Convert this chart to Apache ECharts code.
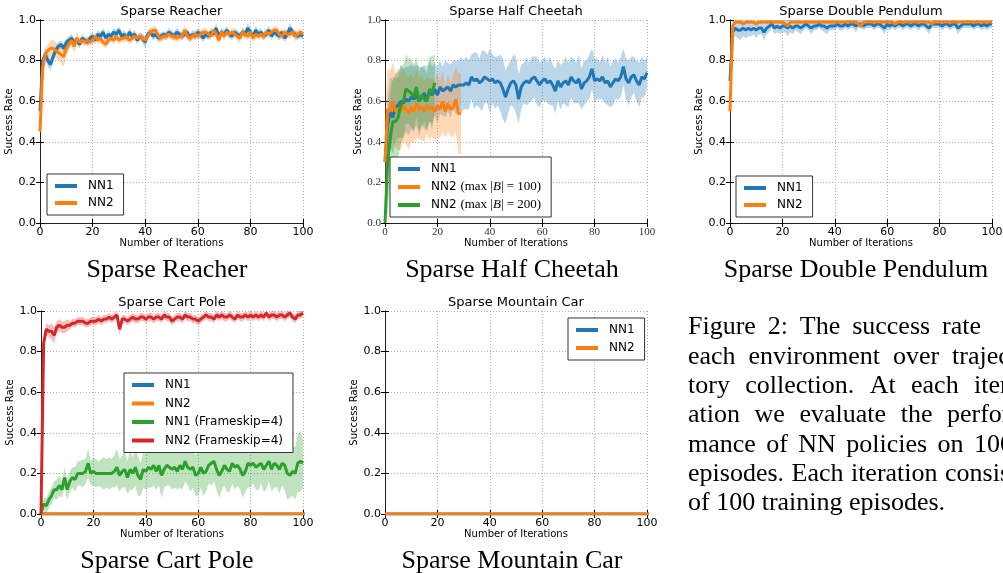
<!DOCTYPE html>
<html>
<head>
<meta charset="utf-8">
<script src="https://cdn.jsdelivr.net/npm/echarts@6/dist/echarts.min.js"></script>
<style>
  html, body { margin: 0; padding: 0; background: #fff; }
  #chart { width: 1003px; height: 573px; }
</style>
</head>
<body>
<div id="chart"></div>
<script>
// x ticks / y ticks shared by all panels
const xTicks = [0, 20, 40, 60, 80, 100];
const yTicks = [0.0, 0.2, 0.4, 0.6, 0.8, 1.0];

// ---- Sparse Reacher ----
const reacherNN1 = [
  0.55,0.80,0.83,0.80,0.78,0.82,0.85,0.87,0.88,0.86,0.89,
  0.90,0.91,0.89,0.90,0.88,0.91,0.90,0.89,0.91,0.92,
  0.90,0.93,0.92,0.94,0.91,0.93,0.92,0.94,0.93,0.95,
  0.92,0.93,0.91,0.94,0.92,0.93,0.90,0.92,0.91,0.89,
  0.93,0.94,0.92,0.93,0.91,0.92,0.93,0.92,0.94,0.93,
  0.92,0.94,0.93,0.92,0.93,0.94,0.91,0.93,0.92,0.94,
  0.93,0.91,0.93,0.92,0.94,0.93,0.96,0.92,0.94,0.93,
  0.95,0.93,0.92,0.94,0.93,0.92,0.94,0.93,0.96,0.94,
  0.92,0.95,0.93,0.94,0.92,0.93,0.95,0.92,0.94,0.93,
  0.92,0.94,0.91,0.93,0.96,0.94,0.93,0.92,0.93,0.92];
const reacherNN1Spread = [
  0.06,0.03,0.03,0.03,0.03,0.03,0.025,0.02,0.02,0.02,0.02,
  0.02,0.02,0.02,0.02,0.02,0.02,0.015,0.02,0.02,0.02,
  0.02,0.02,0.02,0.02,0.02,0.02,0.015,0.02,0.02,0.02,
  0.02,0.02,0.02,0.02,0.02,0.02,0.02,0.02,0.02,0.03,
  0.02,0.02,0.02,0.02,0.02,0.02,0.015,0.02,0.02,0.02,
  0.02,0.02,0.02,0.02,0.02,0.02,0.02,0.02,0.02,0.02,
  0.02,0.02,0.02,0.02,0.02,0.02,0.025,0.02,0.02,0.02,
  0.02,0.02,0.02,0.02,0.02,0.02,0.02,0.02,0.025,0.02,
  0.02,0.02,0.02,0.02,0.02,0.02,0.02,0.02,0.02,0.02,
  0.02,0.02,0.02,0.02,0.025,0.02,0.02,0.02,0.02,0.02];
const reacherNN2 = [
  0.45,0.76,0.83,0.85,0.86,0.86,0.85,0.84,0.83,0.82,0.86,
  0.88,0.90,0.87,0.91,0.89,0.90,0.89,0.90,0.89,0.90,
  0.92,0.90,0.91,0.89,0.88,0.90,0.91,0.90,0.92,0.90,
  0.91,0.91,0.92,0.90,0.91,0.92,0.91,0.92,0.91,0.90,
  0.92,0.94,0.95,0.95,0.92,0.91,0.92,0.92,0.93,0.92,
  0.92,0.91,0.92,0.92,0.95,0.92,0.91,0.92,0.93,0.92,
  0.93,0.94,0.94,0.93,0.92,0.95,0.93,0.90,0.94,0.92,
  0.94,0.93,0.94,0.93,0.92,0.91,0.94,0.93,0.92,0.94,
  0.91,0.93,0.92,0.93,0.92,0.94,0.93,0.94,0.95,0.95,
  0.93,0.92,0.94,0.93,0.93,0.94,0.92,0.93,0.94,0.93];
const reacherNN2Spread = [
  0.03,0.04,0.03,0.03,0.04,0.04,0.04,0.04,0.04,0.05,0.04,
  0.03,0.03,0.03,0.03,0.02,0.02,0.02,0.02,0.02,0.02,
  0.02,0.02,0.025,0.02,0.02,0.02,0.02,0.02,0.02,0.02,
  0.02,0.02,0.02,0.02,0.02,0.02,0.02,0.02,0.02,0.02,
  0.02,0.02,0.02,0.02,0.02,0.02,0.02,0.02,0.02,0.02,
  0.02,0.02,0.02,0.02,0.025,0.02,0.02,0.02,0.02,0.02,
  0.02,0.02,0.02,0.02,0.02,0.02,0.02,0.025,0.02,0.02,
  0.02,0.02,0.02,0.02,0.02,0.025,0.02,0.02,0.02,0.02,
  0.025,0.02,0.02,0.02,0.02,0.02,0.02,0.02,0.02,0.02,
  0.02,0.02,0.02,0.02,0.02,0.02,0.025,0.02,0.02,0.02];

// ---- Sparse Half Cheetah ----
const cheetahNN1 = [
  0.30,0.48,0.55,0.52,0.57,0.58,0.60,0.59,0.61,0.60,0.62,
  0.61,0.63,0.60,0.62,0.64,0.61,0.65,0.63,0.66,0.63,
  0.67,0.65,0.66,0.67,0.65,0.68,0.67,0.68,0.68,0.68,
  0.69,0.68,0.72,0.70,0.71,0.69,0.70,0.72,0.71,0.70,
  0.71,0.69,0.70,0.69,0.66,0.62,0.66,0.69,0.70,0.68,
  0.61,0.67,0.69,0.70,0.69,0.71,0.72,0.70,0.68,0.70,
  0.71,0.69,0.70,0.68,0.65,0.70,0.67,0.69,0.70,0.68,
  0.72,0.70,0.69,0.71,0.66,0.69,0.70,0.72,0.76,0.70,
  0.71,0.70,0.72,0.69,0.70,0.67,0.69,0.71,0.70,0.72,
  0.77,0.71,0.69,0.72,0.73,0.70,0.68,0.72,0.71,0.74];
const cheetahNN1Spread = [
  0.05,0.15,0.17,0.18,0.17,0.16,0.18,0.17,0.16,0.17,0.16,
  0.16,0.15,0.17,0.15,0.14,0.16,0.15,0.14,0.13,0.14,
  0.13,0.12,0.14,0.12,0.13,0.12,0.13,0.12,0.14,0.12,
  0.13,0.12,0.11,0.14,0.13,0.12,0.15,0.13,0.12,0.16,
  0.12,0.13,0.12,0.14,0.15,0.13,0.12,0.11,0.13,0.14,
  0.12,0.11,0.10,0.12,0.10,0.11,0.10,0.12,0.11,0.10,
  0.11,0.10,0.12,0.10,0.11,0.10,0.11,0.10,0.12,0.11,
  0.10,0.11,0.10,0.12,0.10,0.11,0.10,0.11,0.10,0.11,
  0.10,0.09,0.11,0.10,0.12,0.10,0.11,0.10,0.09,0.10,
  0.09,0.10,0.11,0.10,0.09,0.10,0.11,0.10,0.09,0.08];
const cheetahNN2B100 = [
  0.30,0.56,0.55,0.60,0.55,0.56,0.55,0.58,0.56,0.54,0.57,
  0.55,0.59,0.56,0.57,0.55,0.58,0.56,0.57,0.55,0.58,
  0.56,0.60,0.55,0.59,0.56,0.57,0.61,0.54,0.54];
const cheetahNN2B100Spread = [
  0.25,0.20,0.20,0.19,0.18,0.20,0.19,0.18,0.17,0.18,0.17,
  0.16,0.17,0.15,0.16,0.15,0.14,0.15,0.14,0.15,0.16,
  0.14,0.15,0.13,0.14,0.13,0.15,0.16,0.20,0.20];
const cheetahNN2B200 = [
  0.00,0.30,0.42,0.50,0.50,0.52,0.58,0.60,0.66,0.65,0.64,
  0.62,0.67,0.60,0.63,0.61,0.60,0.66,0.64,0.69];
const cheetahNN2B200Spread = [
  0.05,0.25,0.22,0.22,0.21,0.20,0.19,0.18,0.17,0.16,0.17,
  0.16,0.15,0.15,0.14,0.15,0.14,0.16,0.18,0.14];

// ---- Sparse Double Pendulum ----
const pendulumNN1 = [
  0.70,0.94,0.96,0.95,0.95,0.96,0.95,0.96,0.95,0.96,0.95,
  0.96,0.96,0.94,0.96,0.97,0.98,0.96,0.97,0.96,0.97,
  0.97,0.96,0.97,0.96,0.97,0.97,0.96,0.97,0.98,0.97,
  0.96,0.97,0.97,0.98,0.97,0.97,0.96,0.97,0.97,0.97,
  0.98,0.97,0.97,0.98,0.97,0.98,0.98,0.97,0.98,0.98,
  0.97,0.98,0.98,0.98,0.97,0.98,0.98,0.97,0.96,0.98,
  0.97,0.98,0.97,0.98,0.98,0.97,0.98,0.98,0.97,0.98,
  0.98,0.97,0.98,0.98,0.97,0.96,0.98,0.98,0.98,0.98,
  0.97,0.98,0.98,0.97,0.98,0.98,0.96,0.97,0.98,0.98,
  0.98,0.98,0.97,0.98,0.98,0.97,0.98,0.97,0.98,0.98];
const pendulumNN1Spread = [
  0.03,0.03,0.04,0.04,0.05,0.04,0.04,0.04,0.03,0.03,0.04,
  0.03,0.03,0.04,0.03,0.03,0.02,0.03,0.03,0.03,0.03,
  0.03,0.04,0.03,0.03,0.02,0.03,0.03,0.02,0.02,0.02,
  0.03,0.02,0.02,0.02,0.02,0.03,0.03,0.02,0.02,0.02,
  0.02,0.02,0.02,0.02,0.02,0.02,0.02,0.03,0.02,0.02,
  0.02,0.02,0.02,0.02,0.02,0.02,0.02,0.02,0.03,0.02,
  0.02,0.02,0.02,0.02,0.02,0.02,0.02,0.02,0.02,0.02,
  0.02,0.02,0.02,0.02,0.02,0.03,0.02,0.02,0.02,0.02,
  0.02,0.02,0.02,0.02,0.02,0.02,0.03,0.02,0.02,0.02,
  0.02,0.02,0.02,0.02,0.02,0.02,0.02,0.02,0.02,0.02];
const pendulumNN2 = [
  0.55,0.97,0.99,0.99,0.99,0.98,0.99,0.99,0.99,0.99,0.98,
  0.99,0.99,0.99,0.99,0.99,0.99,0.99,0.99,0.99,0.99,
  0.98,0.97,0.99,0.99,0.99,0.99,0.99,0.99,0.99,0.99,
  0.99,0.99,0.99,0.99,0.99,0.99,0.99,0.99,0.99,0.99,
  0.99,0.99,0.99,0.99,0.99,0.99,0.99,0.99,0.98,0.97,
  0.99,0.99,0.99,0.99,0.99,0.99,0.99,0.99,0.99,0.99,
  0.99,0.99,0.98,0.99,0.99,0.99,0.99,0.99,0.99,0.99,
  0.99,0.99,0.99,0.99,0.99,0.99,0.98,0.99,0.99,0.99,
  0.99,0.99,0.99,0.99,0.99,0.99,0.99,0.99,0.99,0.99,
  0.99,0.99,0.99,0.99,0.99,0.99,0.99,0.99,0.99,0.99];
const pendulumNN2Spread = [
  0.05,0.02,0.01,0.01,0.01,0.01,0.01,0.01,0.01,0.01,0.01,
  0.01,0.01,0.01,0.01,0.01,0.01,0.01,0.01,0.01,0.01,
  0.01,0.015,0.01,0.01,0.01,0.01,0.01,0.01,0.01,0.01,
  0.01,0.01,0.01,0.01,0.01,0.01,0.01,0.01,0.01,0.01,
  0.01,0.01,0.01,0.01,0.01,0.01,0.01,0.01,0.01,0.015,
  0.01,0.01,0.01,0.01,0.01,0.01,0.01,0.01,0.01,0.01,
  0.01,0.01,0.01,0.01,0.01,0.01,0.01,0.01,0.01,0.01,
  0.01,0.01,0.01,0.01,0.01,0.01,0.01,0.01,0.01,0.01,
  0.01,0.01,0.01,0.01,0.01,0.01,0.01,0.01,0.01,0.01,
  0.01,0.01,0.01,0.01,0.01,0.01,0.01,0.01,0.01,0.01];

// ---- Sparse Cart Pole ----
const cartPoleNN1 = [
  0,0,0,0,0,0,0,0,0,0,0, 0,0,0,0,0,0,0,0,0,0, 0,0,0,0,0,0,0,0,0,0,
  0,0,0,0,0,0,0,0,0,0, 0,0,0,0,0,0,0,0,0,0, 0,0,0,0,0,0,0,0,0,0,
  0,0,0,0,0,0,0,0,0,0, 0,0,0,0,0,0,0,0,0,0, 0,0,0,0,0,0,0,0,0,0,
  0,0,0,0,0,0,0,0,0,0, 0,0,0,0,0,0,0,0,0,0];
const cartPoleNN2 = [
  0,0,0,0,0,0,0,0,0,0,0, 0,0,0,0,0,0,0,0,0,0, 0,0,0,0,0,0,0,0,0,0,
  0,0,0,0,0,0,0,0,0,0, 0,0,0,0,0,0,0,0,0,0, 0,0,0,0,0,0,0,0,0,0,
  0,0,0,0,0,0,0,0,0,0, 0,0,0,0,0,0,0,0,0,0, 0,0,0,0,0,0,0,0,0,0,
  0,0,0,0,0,0,0,0,0,0, 0,0,0,0,0,0,0,0,0,0];
const cartPoleNN1Fs4 = [
  0.00,0.05,0.04,0.07,0.09,0.12,0.12,0.14,0.12,0.18,0.12,
  0.16,0.18,0.17,0.20,0.20,0.20,0.21,0.25,0.20,0.21,
  0.20,0.20,0.20,0.20,0.20,0.20,0.20,0.21,0.23,0.19,
  0.21,0.22,0.18,0.22,0.20,0.23,0.19,0.17,0.22,0.21,
  0.23,0.22,0.24,0.21,0.24,0.19,0.22,0.24,0.23,0.22,
  0.23,0.21,0.24,0.22,0.26,0.23,0.22,0.23,0.19,0.20,
  0.23,0.20,0.21,0.24,0.25,0.26,0.22,0.19,0.21,0.24,
  0.22,0.21,0.25,0.23,0.24,0.22,0.19,0.21,0.25,0.24,
  0.25,0.23,0.24,0.25,0.22,0.24,0.26,0.22,0.25,0.24,
  0.22,0.25,0.24,0.20,0.19,0.21,0.20,0.25,0.26,0.25];
const cartPoleNN1Fs4Spread = [
  0.01,0.03,0.04,0.04,0.04,0.04,0.05,0.05,0.04,0.05,0.05,
  0.05,0.05,0.06,0.06,0.06,0.07,0.06,0.07,0.06,0.07,
  0.07,0.06,0.07,0.08,0.07,0.08,0.07,0.08,0.09,0.08,
  0.08,0.09,0.08,0.10,0.08,0.09,0.10,0.08,0.09,0.09,
  0.10,0.09,0.10,0.09,0.10,0.11,0.09,0.10,0.09,0.10,
  0.10,0.09,0.11,0.10,0.10,0.09,0.11,0.10,0.10,0.11,
  0.10,0.11,0.10,0.09,0.11,0.10,0.10,0.11,0.09,0.10,
  0.11,0.10,0.10,0.11,0.10,0.10,0.11,0.10,0.12,0.11,
  0.10,0.11,0.12,0.10,0.11,0.12,0.10,0.11,0.12,0.11,
  0.12,0.11,0.12,0.13,0.11,0.12,0.13,0.14,0.15,0.12];
const cartPoleNN2Fs4 = [
  0.00,0.84,0.91,0.90,0.90,0.88,0.92,0.93,0.92,0.92,0.93,
  0.93,0.94,0.94,0.95,0.95,0.95,0.94,0.94,0.95,0.95,
  0.95,0.96,0.95,0.96,0.96,0.97,0.96,0.97,0.98,0.91,
  0.96,0.96,0.95,0.96,0.97,0.96,0.96,0.97,0.97,0.96,
  0.97,0.97,0.96,0.97,0.97,0.96,0.98,0.97,0.97,0.95,
  0.96,0.97,0.97,0.96,0.98,0.97,0.97,0.96,0.96,0.95,
  0.96,0.97,0.98,0.97,0.97,0.96,0.98,0.97,0.98,0.97,
  0.97,0.98,0.97,0.96,0.98,0.97,0.97,0.98,0.97,0.98,
  0.97,0.98,0.97,0.98,0.97,0.99,0.97,0.98,0.98,0.97,
  0.98,0.98,0.97,0.98,0.99,0.97,0.96,0.98,0.98,0.99];
const cartPoleNN2Fs4Spread = [
  0.01,0.03,0.03,0.03,0.04,0.04,0.03,0.03,0.03,0.03,0.03,
  0.02,0.02,0.02,0.02,0.02,0.02,0.02,0.02,0.02,0.02,
  0.02,0.02,0.02,0.02,0.02,0.02,0.02,0.02,0.02,0.03,
  0.02,0.02,0.02,0.02,0.02,0.02,0.02,0.02,0.02,0.02,
  0.02,0.02,0.02,0.02,0.02,0.02,0.02,0.02,0.02,0.02,
  0.02,0.02,0.02,0.02,0.02,0.02,0.02,0.02,0.02,0.02,
  0.02,0.02,0.02,0.02,0.02,0.02,0.02,0.02,0.02,0.02,
  0.02,0.02,0.02,0.02,0.02,0.02,0.02,0.02,0.02,0.02,
  0.02,0.02,0.02,0.02,0.02,0.02,0.02,0.02,0.02,0.02,
  0.02,0.02,0.02,0.02,0.02,0.02,0.02,0.02,0.02,0.02];

// ---- Sparse Mountain Car ----
const mountainNN1 = [
  0,0,0,0,0,0,0,0,0,0,0, 0,0,0,0,0,0,0,0,0,0, 0,0,0,0,0,0,0,0,0,0,
  0,0,0,0,0,0,0,0,0,0, 0,0,0,0,0,0,0,0,0,0, 0,0,0,0,0,0,0,0,0,0,
  0,0,0,0,0,0,0,0,0,0, 0,0,0,0,0,0,0,0,0,0, 0,0,0,0,0,0,0,0,0,0,
  0,0,0,0,0,0,0,0,0,0, 0,0,0,0,0,0,0,0,0,0];
const mountainNN2 = [
  0,0,0,0,0,0,0,0,0,0,0, 0,0,0,0,0,0,0,0,0,0, 0,0,0,0,0,0,0,0,0,0,
  0,0,0,0,0,0,0,0,0,0, 0,0,0,0,0,0,0,0,0,0, 0,0,0,0,0,0,0,0,0,0,
  0,0,0,0,0,0,0,0,0,0, 0,0,0,0,0,0,0,0,0,0, 0,0,0,0,0,0,0,0,0,0,
  0,0,0,0,0,0,0,0,0,0, 0,0,0,0,0,0,0,0,0,0];

// 颜色 (matplotlib tab10)
const BLUE = '#1f77b4', ORANGE = '#ff7f0e', GREEN = '#2ca02c', RED = '#d62728';
const SANS = 'DejaVu Sans';
const SERIF = 'Liberation Serif';

// 5个子图的位置
const panels = [
  { title: 'Sparse Reacher',         left: 40,  top: 20,  width: 263, caption: 167, capY: 270 },
  { title: 'Sparse Half Cheetah',    left: 385, top: 20,  width: 262, caption: 512, capY: 270, serifTicks: true },
  { title: 'Sparse Double Pendulum', left: 730, top: 20,  width: 262, caption: 856, capY: 270 },
  { title: 'Sparse Cart Pole',       left: 41,  top: 311, width: 262, caption: 167, capY: 561 },
  { title: 'Sparse Mountain Car',    left: 385, top: 311, width: 262, caption: 512, capY: 561 }
];
const PH = 203;

const grids = [], xAxes = [], yAxes = [], titles = [], series = [];

panels.forEach((p, gi) => {
  grids.push({ left: p.left, top: p.top, width: p.width, height: PH,
    containLabel: false, outerBoundsMode: 'none', show: false });
  titles.push({ text: p.title, left: p.left + p.width / 2, top: p.top - 15, textAlign: 'center',
    padding: 0, textStyle: { fontFamily: SANS, fontSize: 13, fontWeight: 'normal', color: '#000' } });

  const labelFont = p.serifTicks
    ? { fontFamily: SERIF, fontSize: 11, color: '#333' }
    : { fontFamily: SANS, fontSize: 11, color: '#000' };
  const tick = { show: true, inside: true, length: 4, lineStyle: { color: '#000', width: 1 } };
  const line = { show: true, lineStyle: { color: '#222', width: 1 } };
  const split = { show: true, lineStyle: { color: '#b0b0b0', width: 1, type: [1, 2] } };

  xAxes.push({
    type: 'value', gridIndex: gi, position: 'bottom', min: 0, max: 100, interval: 20,
    axisLine: line, axisTick: tick, splitLine: split,
    axisLabel: Object.assign({ margin: 4 }, labelFont),
    name: 'Number of Iterations', nameLocation: 'middle', nameGap: 14,
    nameTextStyle: { fontFamily: SANS, fontSize: 10, color: '#000' }
  });
  xAxes.push({
    type: 'value', gridIndex: gi, position: 'top', min: 0, max: 100, interval: 20,
    axisLine: line, axisTick: tick, splitLine: { show: false }, axisLabel: { show: false }
  });
  yAxes.push({
    type: 'value', gridIndex: gi, position: 'left', min: 0, max: 1, interval: 0.2,
    axisLine: line, axisTick: tick, splitLine: split,
    axisLabel: Object.assign({ margin: 4, formatter: v => v.toFixed(1) }, labelFont),
    name: 'Success Rate', nameLocation: 'middle', nameGap: gi === 1 ? 17 : 20,
    nameTextStyle: { fontFamily: SANS, fontSize: 10, color: '#000' }
  });
  yAxes.push({
    type: 'value', gridIndex: gi, position: 'right', min: 0, max: 1, interval: 0.2,
    axisLine: line, axisTick: tick, splitLine: { show: false }, axisLabel: { show: false }
  });
});

// 阴影带: 用custom系列画一个多边形 (mean ± spread)
function band(vals, spread, color, gi) {
  const lower = vals.map((v, i) => Math.max(0, v - spread[i]));
  const upper = vals.map((v, i) => Math.min(1, v + spread[i]));
  const n = vals.length;
  series.push({
    type: 'custom', xAxisIndex: gi * 2, yAxisIndex: gi * 2, silent: true, clip: true, z: 2,
    data: vals.map((v, i) => [i, lower[i], upper[i]]),
    encode: { x: 0, y: [1, 2] },
    renderItem: (params, api) => {
      if (params.dataIndex !== 0) return null;
      const pts = [];
      for (let i = 0; i < n; i++) pts.push(api.coord([i, upper[i]]));
      for (let i = n - 1; i >= 0; i--) pts.push(api.coord([i, lower[i]]));
      return { type: 'polygon', shape: { points: pts }, style: { fill: color, opacity: 0.3 } };
    }
  });
}
function curve(name, vals, color, gi) {
  series.push({ type: 'line', name: name, xAxisIndex: gi * 2, yAxisIndex: gi * 2,
    data: vals.map((v, i) => [i, v]), symbol: 'none', showSymbol: false, silent: true, z: 3,
    lineStyle: { color: color, width: 3 }, itemStyle: { color: color } });
}

// Reacher
band(reacherNN1, reacherNN1Spread, BLUE, 0);
curve('NN1', reacherNN1, BLUE, 0);
band(reacherNN2, reacherNN2Spread, ORANGE, 0);
curve('NN2', reacherNN2, ORANGE, 0);
// Half Cheetah
band(cheetahNN1, cheetahNN1Spread, BLUE, 1);
curve('NN1', cheetahNN1, BLUE, 1);
band(cheetahNN2B100, cheetahNN2B100Spread, ORANGE, 1);
curve('NN2 (max|B|=100)', cheetahNN2B100, ORANGE, 1);
band(cheetahNN2B200, cheetahNN2B200Spread, GREEN, 1);
curve('NN2 (max|B|=200)', cheetahNN2B200, GREEN, 1);
// Double Pendulum
band(pendulumNN1, pendulumNN1Spread, BLUE, 2);
curve('NN1', pendulumNN1, BLUE, 2);
band(pendulumNN2, pendulumNN2Spread, ORANGE, 2);
curve('NN2', pendulumNN2, ORANGE, 2);
// Cart Pole
curve('NN1', cartPoleNN1, BLUE, 3);
curve('NN2', cartPoleNN2, ORANGE, 3);
band(cartPoleNN1Fs4, cartPoleNN1Fs4Spread, GREEN, 3);
curve('NN1 (Frameskip=4)', cartPoleNN1Fs4, GREEN, 3);
band(cartPoleNN2Fs4, cartPoleNN2Fs4Spread, RED, 3);
curve('NN2 (Frameskip=4)', cartPoleNN2Fs4, RED, 3);
// Mountain Car
curve('NN1', mountainNN1, BLUE, 4);
curve('NN2', mountainNN2, ORANGE, 4);

// 图例
function legend(names, left, top, gap, formatter) {
  return {
    data: names, orient: 'vertical', left: left, top: top, itemGap: gap,
    icon: 'rect', itemWidth: 22, itemHeight: 4, selectedMode: false,
    backgroundColor: '#fff', borderColor: '#333', borderWidth: 1, borderRadius: 0,
    padding: [5, 10, 5, 8],
    textStyle: { fontFamily: SANS, fontSize: 12, color: '#000', lineHeight: 14, padding: [0, 0, 0, 6],
      rich: {
        s: { fontFamily: SANS, fontSize: 12, lineHeight: 14 },
        m: { fontFamily: SERIF, fontSize: 13, lineHeight: 14 },
        i: { fontFamily: SERIF, fontSize: 13, lineHeight: 14, fontStyle: 'italic' }
      } },
    formatter: formatter
  };
}
const cheetahFmt = name => {
  if (name === 'NN2 (max|B|=100)') return '{s|NN2 }{m|(max |}{i|B}{m|| = 100)}';
  if (name === 'NN2 (max|B|=200)') return '{s|NN2 }{m|(max |}{i|B}{m|| = 200)}';
  return name;
};
const legends = [
  legend(['NN1', 'NN2'], 47, 174, 3),
  legend(['NN1', 'NN2 (max|B|=100)', 'NN2 (max|B|=200)'], 390, 157, 4, cheetahFmt),
  legend(['NN1', 'NN2'], 736, 176, 3),
  legend(['NN1', 'NN2', 'NN1 (Frameskip=4)', 'NN2 (Frameskip=4)'], 124, 373, 4.5),
  legend(['NN1', 'NN2'], 568, 318, 4)
];

// 子图下方标题和右侧说明文字 (两端对齐, 右侧被裁掉)
const capFont = '26px "Liberation Serif"';
const graphics = panels.map(p => ({
  type: 'text', x: p.caption, y: p.capY, silent: true,
  style: { text: p.title, font: capFont, fill: '#000', align: 'center', verticalAlign: 'middle' }
}));
const captionLines = [
  { y: 327, lastX: 942, words: ['Figure', '2:', 'The', 'success', 'rate'] },
  { y: 357, lastX: 952, words: ['each', 'environment', 'over', 'trajec-'] },
  { y: 386, lastX: 974, words: ['tory', 'collection.', 'At', 'each', 'iter-'] },
  { y: 415, lastX: 947, words: ['ation', 'we', 'evaluate', 'the', 'perfor-'] },
  { y: 445, lastX: 974, words: ['mance', 'of', 'NN', 'policies', 'on', '100'] },
  { y: 474, lastX: 945, words: ['episodes.', 'Each', 'iteration', 'consists'] },
  { y: 503, lastX: null, words: ['of 100 training episodes.'] }
];
const ctx = document.createElement('canvas').getContext('2d');
ctx.font = capFont;
const X0 = 688;
captionLines.forEach(l => {
  const widths = l.words.map(w => ctx.measureText(w).width);
  let gap = 0;
  if (l.lastX !== null && l.words.length > 1) {
    const used = widths.slice(0, -1).reduce((a, b) => a + b, 0);
    gap = (l.lastX - X0 - used) / (l.words.length - 1);
  }
  let x = X0;
  l.words.forEach((w, k) => {
    graphics.push({
      type: 'text', x: x, y: l.y, silent: true,
      style: { text: w, font: capFont, fill: '#000', align: 'left', verticalAlign: 'middle' }
    });
    x += widths[k] + gap;
  });
});

const chart = echarts.init(document.getElementById('chart'), null, { renderer: 'canvas' });
chart.setOption({
  animation: false,
  backgroundColor: '#fff',
  title: titles,
  grid: grids,
  xAxis: xAxes,
  yAxis: yAxes,
  legend: legends,
  series: series,
  graphic: graphics
});
</script>
</body>
</html>
